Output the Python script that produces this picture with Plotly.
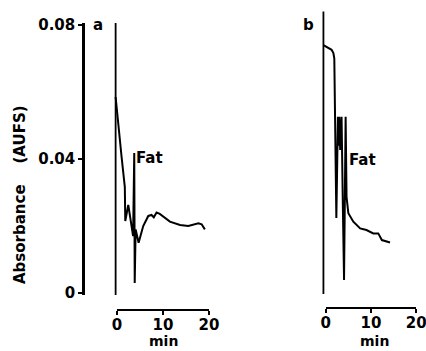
import plotly.graph_objects as go

# ---------------- data ----------------
# Panel a
a_inject_time = [-0.3, -0.3]
a_inject_abs = [0.0806, -0.0006]
a_time = [-0.3, 0.3, 1.0, 1.7, 1.8, 2.45, 3.2, 3.5, 3.75, 3.85, 4.05, 4.7, 5.7,
          6.8, 7.5, 8.0, 8.6, 9.3, 11.5, 13.7, 15.5, 17.7, 18.4, 19.1]
a_abs = [0.0585, 0.0493, 0.0406, 0.0316, 0.0215, 0.0263, 0.0194, 0.0170, 0.0418,
         0.0030, 0.0190, 0.0150, 0.0200, 0.0230, 0.0233, 0.0226, 0.0240, 0.0236,
         0.0213, 0.0203, 0.0200, 0.0208, 0.0205, 0.0190]

# Panel b
b_inject_time = [-0.5, -0.5]
b_inject_abs = [0.0840, -0.0003]
b_time = [-0.5, 0.6, 1.3, 1.7, 1.9, 2.35, 2.7, 2.85, 3.0, 3.2, 3.5, 3.8, 4.05,
          4.4, 4.6, 5.0, 6.1, 7.6, 9.0, 10.5, 11.6, 12.4, 14.2]
b_abs = [0.0740, 0.0730, 0.0726, 0.0716, 0.0700, 0.0224, 0.0526, 0.0440, 0.0526,
         0.0427, 0.0526, 0.0250, 0.0039, 0.0526, 0.0287, 0.0238, 0.0213, 0.0193,
         0.0188, 0.0178, 0.0178, 0.0158, 0.0151]

x_ticks = [0, 10, 20]
x_tick_labels = ["0", "10", "20"]
y_ticks = [0, 0.04, 0.08]
y_tick_labels = ["0", "0.04", "0.08"]

# ---------------- layout geometry (pixels) ----------------
W, H = 426, 351
Y0_PX, PX_PER_UNIT = 293.0, 3350.0       # y pixel of absorbance 0, px per AUFS


def ydom(lo, hi):
    return [(H - (Y0_PX - PX_PER_UNIT * lo)) / H, (H - (Y0_PX - PX_PER_UNIT * hi)) / H]


def xrange_for(px_left, px_right, px_zero, px_per_min):
    return [(px_left - px_zero) / px_per_min, (px_right - px_zero) / px_per_min]


a_yrange = [-0.0007, 0.0807]
b_yrange = [-0.0007, 0.0845]

FONT = dict(family="DejaVu Sans", size=15, color="black", weight="bold")
LINE = dict(color="black", width=2)

fig = go.Figure()
fig.add_trace(go.Scatter(x=a_inject_time, y=a_inject_abs, mode="lines",
                         line=dict(color="black", width=1.8), xaxis="x", yaxis="y"))
fig.add_trace(go.Scatter(x=a_time, y=a_abs, mode="lines", line=LINE,
                         xaxis="x", yaxis="y"))
fig.add_trace(go.Scatter(x=b_inject_time, y=b_inject_abs, mode="lines",
                         line=dict(color="black", width=1.8), xaxis="x2", yaxis="y2"))
fig.add_trace(go.Scatter(x=b_time, y=b_abs, mode="lines", line=LINE,
                         xaxis="x2", yaxis="y2"))
# invisible carriers for the separate time axes
fig.add_trace(go.Scatter(x=[x_ticks[0], x_ticks[-1]], y=[0, 0], mode="lines",
                         opacity=0, hoverinfo="skip", xaxis="x3", yaxis="y"))
fig.add_trace(go.Scatter(x=[x_ticks[0], x_ticks[-1]], y=[0, 0], mode="lines",
                         opacity=0, hoverinfo="skip", xaxis="x4", yaxis="y2"))

time_axis = dict(range=[0, 20], tickvals=x_ticks, ticktext=x_tick_labels,
                 showline=True, linecolor="black", linewidth=2, ticks="outside",
                 ticklen=4, tickwidth=2, tickcolor="black", showgrid=False,
                 zeroline=False, tickfont=FONT, anchor="free", fixedrange=True,
                 automargin=False, ticklabeloverflow="allow",
                 ticklabelstandoff=-3)

fig.update_layout(
    template="none",
    width=W, height=H, margin=dict(l=0, r=0, t=0, b=0, pad=0, autoexpand=False),
    paper_bgcolor="white", plot_bgcolor="rgba(0,0,0,0)", showlegend=False,
    xaxis=dict(domain=[85 / W, 213 / W], range=xrange_for(85, 213, 117, 4.6),
               visible=False, fixedrange=True, automargin=False),
    yaxis=dict(domain=ydom(*a_yrange), range=a_yrange, tickvals=y_ticks,
               ticktext=y_tick_labels, showline=True, linecolor="black",
               linewidth=2.5, ticks="outside", ticklen=4, tickwidth=2,
               tickcolor="black", showgrid=False, zeroline=False, tickfont=FONT,
               anchor="x", fixedrange=True, automargin=False),
    xaxis2=dict(domain=[300 / W, 426 / W], range=xrange_for(300, 426, 325.7, 4.53),
                visible=False, anchor="y2", fixedrange=True, automargin=False),
    yaxis2=dict(domain=ydom(*b_yrange), range=b_yrange, visible=False,
                anchor="x2", fixedrange=True, automargin=False),
    xaxis3=dict(domain=[117 / W, 209 / W], position=(H - 310) / H, **time_axis),
    xaxis4=dict(domain=[325.7 / W, 416.3 / W], position=(H - 308) / H, **time_axis),
)

def note(text, px, py, angle=0, size=15, yanchor="middle"):
    fig.add_annotation(text=text, x=px / W, y=(H - py) / H, xref="paper",
                       yref="paper", showarrow=False, font={**FONT, "size": size},
                       textangle=angle, xanchor="center", yanchor=yanchor)

note("a", 98, 25)
note("b", 308, 25)
note("Fat", 149, 158)
note("Fat", 362, 160)
note("min", 163, 350.5, size=14, yanchor="bottom")
note("min", 374, 350.5, size=14, yanchor="bottom")
note("Absorbance\u00a0\u00a0\u00a0\u00a0(AUFS)", 20, 195, angle=-90)

fig.write_html(
    "out.html",
    config={"displayModeBar": False, "responsive": False},
    post_script=("document.documentElement.style.margin='0';"
                 "document.documentElement.style.padding='0';"
                 "document.documentElement.style.overflow='hidden';"
                 "document.body.style.margin='0';"
                 "document.body.style.padding='0';"
                 "document.body.style.overflow='hidden';"),
)
